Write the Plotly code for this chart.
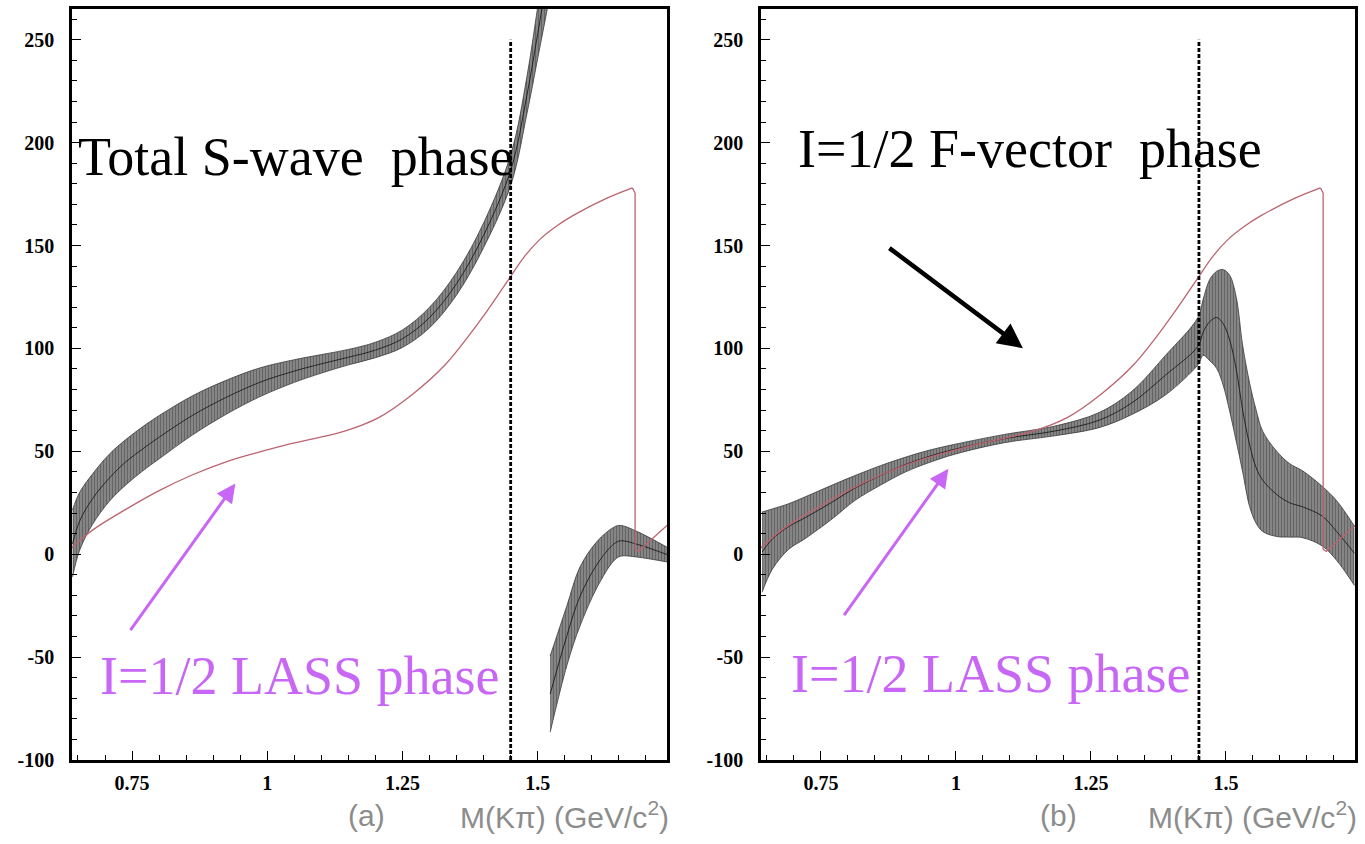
import plotly.graph_objects as go

# ---------------- data ----------------
# Total S-wave phase (panel a), branch below the 360-degree wrap
sw_x = [0.640, 0.653, 0.677, 0.708, 0.739, 0.770, 0.801, 0.862, 0.924, 0.986,
        1.050, 1.100, 1.150, 1.200, 1.250, 1.300, 1.350, 1.400, 1.451, 1.480,
        1.500, 1.520]
sw_hi = [21.5, 30.0, 39.0, 48.6, 55.8, 62.0, 67.5, 77.0, 84.5, 90.5,
         94.5, 97.0, 99.5, 103.0, 109.0, 120.0, 137.0, 161.0, 195.0, 232.0,
         266.0, 300.0]
sw_lo = [-11.0, 1.8, 14.5, 25.7, 33.8, 40.5, 46.5, 58.0, 68.0, 76.5,
         83.5, 88.0, 92.0, 95.5, 100.5, 110.0, 126.0, 149.0, 180.0, 214.0,
         241.0, 268.0]
sw_mid = [5.0, 16.0, 27.0, 37.0, 45.0, 51.2, 57.0, 67.5, 76.2, 83.5,
          89.0, 92.5, 95.7, 99.2, 104.7, 115.0, 131.5, 155.0, 187.5, 223.0,
          253.0, 284.0]

# Total S-wave phase (panel a), branch after the wrap
sw2_x = [1.523, 1.554, 1.578, 1.610, 1.640, 1.653, 1.684, 1.739]
sw2_hi = [-49.5, -25.0, -6.3, 6.3, 13.0, 14.0, 11.0, 3.4]
sw2_lo = [-86.5, -54.0, -35.0, -16.0, -3.4, -1.0, -1.4, -3.8]
sw2_mid = [-68.0, -39.5, -20.6, -4.8, 4.8, 6.5, 4.8, -0.2]

# I=1/2 F-vector phase (panel b)
fv_x = [0.641, 0.660, 0.690, 0.722, 0.770, 0.814, 0.860, 0.906, 0.950, 0.998,
        1.090, 1.182, 1.265, 1.325, 1.388, 1.448, 1.458, 1.470, 1.483, 1.495,
        1.507, 1.519, 1.531, 1.544, 1.556, 1.568, 1.594, 1.618, 1.642, 1.679,
        1.705, 1.738]
fv_hi = [20.5, 22.0, 24.5, 28.0, 33.5, 38.3, 43.0, 47.1, 50.5, 53.4,
         58.2, 62.2, 68.8, 79.0, 96.6, 115.0, 124.0, 133.5, 137.5, 138.3,
         135.5, 125.0, 101.4, 83.0, 70.0, 59.8, 50.0, 44.0, 40.5, 32.8,
         26.0, 13.6]
fv_lo = [-18.5, -7.3, 2.3, 7.8, 17.0, 26.3, 33.5, 39.9, 44.5, 48.6,
         54.2, 57.5, 61.5, 67.8, 77.4, 92.0, 96.6, 94.0, 90.2, 82.0,
         69.4, 55.0, 40.0, 23.0, 15.0, 11.0, 8.6, 8.3, 8.0, 3.9,
         -3.0, -15.2]
fv_mid = [1.0, 7.4, 13.4, 17.9, 25.2, 32.3, 38.2, 43.5, 47.5, 51.0,
          56.2, 59.8, 65.1, 73.4, 87.0, 101.0, 108.0, 113.0, 115.0, 112.0,
          104.0, 90.0, 70.0, 53.0, 42.0, 36.0, 29.0, 25.0, 23.0, 18.4,
          11.0, 0.5]

# I=1/2 LASS phase (both panels), smooth part and the 180-degree wrap
lass_x = [0.638, 0.677, 0.740, 0.801, 0.862, 0.924, 0.986, 1.040, 1.097, 1.143,
          1.206, 1.267, 1.328, 1.391, 1.446, 1.475, 1.504, 1.535, 1.565, 1.628,
          1.675]
lass_deg = [3.0, 11.7, 22.0, 31.0, 38.6, 44.9, 49.7, 53.5, 56.8, 59.8,
            66.4, 77.4, 91.8, 112.6, 133.4, 144.5, 153.0, 159.5, 164.5, 173.0,
            178.0]
lass_tail_x = [1.675, 1.680, 1.680, 1.686, 1.739]
lass_tail_deg = [178.0, 175.5, 2.4, 1.4, 14.0]

# K*(1430) region boundary
cut_mass = 1.45

x_ticks = [0.75, 1.0, 1.25, 1.5]
x_tick_text = ["0.75", "1", "1.25", "1.5"]
y_ticks = [-100, -50, 0, 50, 100, 150, 200, 250]
y_tick_text = ["-100", "-50", "0", "50", "100", "150", "200", "250"]

# ---------------- styles ----------------
W, H = 1365, 844
LASS_COLOR = "#bb6470"
VIOLET = "#c867f6"
BAND_EDGE = "#3a3a3a"
SERIF = "Liberation Serif, Times New Roman, serif"
SANS = "Liberation Sans, DejaVu Sans, sans-serif"
CAPTION = dict(family=SANS, size=30, color="#8c8c8c")

fig = go.Figure()


def add_band(xs, lo, hi, mid, xa, ya):
    common = dict(xaxis=xa, yaxis=ya, showlegend=False, hoverinfo="skip")
    fig.add_trace(go.Scatter(x=xs, y=lo, mode="lines",
                             line=dict(color=BAND_EDGE, width=0.8, shape="spline"),
                             **common))
    fig.add_trace(go.Scatter(x=xs, y=hi, mode="lines", fill="tonexty",
                             fillcolor="#444444",
                             fillpattern=dict(shape="|", size=3, solidity=0.66,
                                              fgcolor="#242424", bgcolor="#a4a4a4"),
                             line=dict(color=BAND_EDGE, width=0.8, shape="spline"),
                             **common))
    fig.add_trace(go.Scatter(x=xs, y=mid, mode="lines",
                             line=dict(color="#111111", width=1, shape="spline"),
                             opacity=0.8, **common))


def add_lass(xa, ya):
    common = dict(xaxis=xa, yaxis=ya, showlegend=False, hoverinfo="skip")
    fig.add_trace(go.Scatter(x=lass_x, y=lass_deg, mode="lines",
                             line=dict(color=LASS_COLOR, width=1.3, shape="spline"),
                             **common))
    fig.add_trace(go.Scatter(x=lass_tail_x, y=lass_tail_deg, mode="lines",
                             line=dict(color=LASS_COLOR, width=1.3),
                             **common))


# panel (a)
add_band(sw_x, sw_lo, sw_hi, sw_mid, "x", "y")
add_band(sw2_x, sw2_lo, sw2_hi, sw2_mid, "x", "y")
add_lass("x", "y")

# panel (b)
add_band(fv_x, fv_lo, fv_hi, fv_mid, "x2", "y2")
add_lass("x2", "y2")

xdom_a = [72 / W, 667 / W]
xdom_b = [761 / W, 1355 / W]
ydom = [1 - 770 / H, 1 - 9 / H]

xaxis_style = dict(
    range=[0.639, 1.739], tickmode="array", tickvals=x_ticks,
    ticktext=x_tick_text,
    ticks="inside", ticklen=9, tickwidth=1.2, tickcolor="black",
    minor=dict(dtick=0.05, tick0=0, ticks="inside", ticklen=5, tickwidth=1,
               tickcolor="black"),
    showline=True, linewidth=2.6, linecolor="black", mirror=True,
    showgrid=False, zeroline=False,
    tickfont=dict(family=SERIF, size=20, color="black", weight="bold"),
    ticklabelstandoff=3,
)
yaxis_style = dict(
    range=[-100, 265], tickmode="array", tickvals=y_ticks,
    ticktext=y_tick_text,
    ticks="inside", ticklen=9, tickwidth=1.2, tickcolor="black",
    minor=dict(dtick=10, tick0=0, ticks="inside", ticklen=5, tickwidth=1,
               tickcolor="black"),
    showline=True, linewidth=2.6, linecolor="black", mirror=True,
    showgrid=False, zeroline=False,
    tickfont=dict(family=SERIF, size=20, color="black", weight="bold"),
    ticklabelstandoff=11,
)

fig.update_layout(
    width=W, height=H,
    margin=dict(l=0, r=0, t=0, b=0),
    paper_bgcolor="white", plot_bgcolor="white",
    showlegend=False,
    xaxis=dict(domain=xdom_a, anchor="y", **xaxis_style),
    yaxis=dict(domain=ydom, anchor="x", **yaxis_style),
    xaxis2=dict(domain=xdom_b, anchor="y2", **xaxis_style),
    yaxis2=dict(domain=ydom, anchor="x2", **yaxis_style),
)

# dashed boundary lines
for xr, yr in (("x", "y"), ("x2", "y2")):
    fig.add_shape(type="line", xref=xr, yref=yr, x0=cut_mass, x1=cut_mass,
                  y0=-100, y1=250,
                  line=dict(color="black", width=2.8, dash="4px,2px"))

big_font = dict(family=SERIF, size=54, color="black")
lass_font = dict(family=SERIF, size=54, color=VIOLET)
annotations = [
    dict(text="Total S-wave&nbsp; phase", xref="x", yref="y", x=0.646, y=193,
         xanchor="left", yanchor="middle", showarrow=False, font=big_font),
    dict(text="I=1/2 LASS phase", xref="x", yref="y", x=0.687, y=-59,
         xanchor="left", yanchor="middle", showarrow=False, font=lass_font),
    dict(text="I=1/2 F-vector&nbsp; phase", xref="x2", yref="y2", x=0.703, y=197,
         xanchor="left", yanchor="middle", showarrow=False, font=big_font),
    dict(text="I=1/2 LASS phase", xref="x2", yref="y2", x=0.690, y=-58,
         xanchor="left", yanchor="middle", showarrow=False, font=lass_font),
    # arrows
    dict(text="", xref="x", yref="y", x=0.941, y=34.3, axref="x", ayref="y",
         ax=0.745, ay=-37.6, showarrow=True, arrowhead=2, arrowsize=1.25,
         arrowwidth=3, arrowcolor=VIOLET, standoff=0),
    dict(text="", xref="x2", yref="y2", x=0.986, y=41.5, axref="x2", ayref="y2",
         ax=0.791, ay=-30.4, showarrow=True, arrowhead=2, arrowsize=1.25,
         arrowwidth=3, arrowcolor=VIOLET, standoff=0),
    dict(text="", xref="x2", yref="y2", x=1.124, y=100.1, axref="x2", ayref="y2",
         ax=0.874, ay=149.3, showarrow=True, arrowhead=2, arrowsize=1.1,
         arrowwidth=4.5, arrowcolor="black", standoff=0),
    # panel captions
    dict(text="(a)", xref="paper", yref="paper", x=366 / W, y=1 - 826 / H,
         xanchor="center", yanchor="middle", showarrow=False, font=CAPTION),
    dict(text="M(K\u03c0) (GeV/c<sup>2</sup>)", xref="paper", yref="paper",
         x=671 / W, y=1 - 826 / H, xanchor="right", yanchor="middle",
         showarrow=False, font=CAPTION),
    dict(text="(b)", xref="paper", yref="paper", x=1058 / W, y=1 - 826 / H,
         xanchor="center", yanchor="middle", showarrow=False, font=CAPTION),
    dict(text="M(K\u03c0) (GeV/c<sup>2</sup>)", xref="paper", yref="paper",
         x=1359 / W, y=1 - 826 / H, xanchor="right", yanchor="middle",
         showarrow=False, font=CAPTION),
]
fig.update_layout(annotations=annotations)

fig.write_html("out.html")
